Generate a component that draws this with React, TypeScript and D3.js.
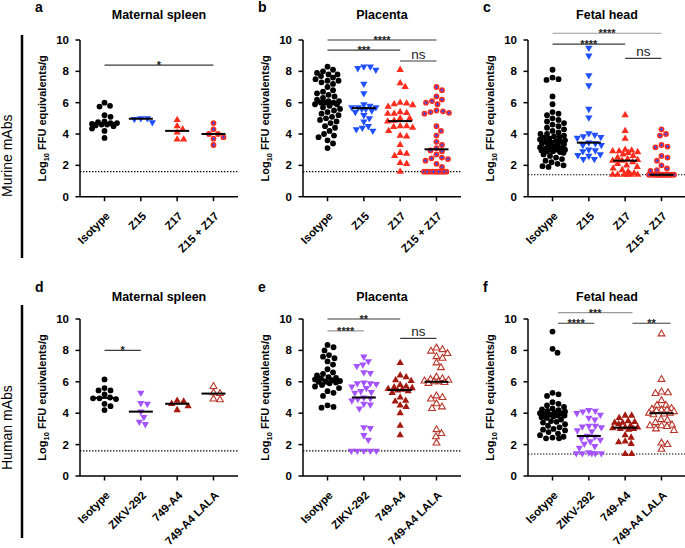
import React from 'react';
import * as d3 from 'd3';

const murineGroups = ['Isotype', 'Z15', 'Z17', 'Z15 + Z17'];
const humanGroups = ['Isotype', 'ZIKV-292', '749-A4', '749-A4 LALA'];
const yTicks = [0, 2, 4, 6, 8, 10];

// a: Maternal spleen (murine)
const aIsotype = [6.0, 5.8, 5.75, 5.2, 5.1, 4.8, 4.75, 4.7, 4.7, 4.65, 4.6, 4.6, 4.55, 4.5, 4.35, 4.2, 3.75];
const aZ15 = [5.0, 5.0, 4.95, 4.75];
const aZ17 = [4.9, 4.5, 4.3, 4.1, 3.65, 3.65];
const aZ15Z17 = [4.7, 4.3, 4.0, 4.0, 3.8, 3.7, 3.3];

// b: Placenta (murine)
const bIsotype = [8.3, 8.1, 8.0, 7.9, 7.8, 7.8, 7.7, 7.6, 7.5, 7.4, 7.4, 7.3, 7.2, 7.0, 6.8, 6.7, 6.6, 6.5, 6.4, 6.3, 6.2, 6.1, 6.1, 6.0, 6.0, 6.0, 5.9, 5.9, 5.8, 5.7, 5.6, 5.5, 5.4, 5.3, 5.2, 5.1, 5.0, 4.9, 4.8, 4.7, 4.5, 4.4, 4.2, 4.0, 3.9, 3.8, 3.6, 3.4, 3.1];
const bZ15 = [8.3, 8.3, 8.2, 8.1, 7.2, 6.6, 5.9, 5.8, 5.7, 5.7, 5.7, 5.6, 5.6, 5.5, 5.4, 5.2, 5.0, 4.8, 4.5, 4.4, 4.3, 4.2];
const bZ17 = [8.1, 7.25, 7.0, 6.0, 5.95, 5.9, 5.85, 5.75, 5.4, 5.35, 5.3, 5.3, 5.0, 5.0, 4.85, 4.8, 4.5, 4.5, 4.45, 4.4, 4.2, 3.9, 3.85, 3.3, 2.8, 2.75, 2.6, 2.15, 2.1, 1.6];
const bZ15Z17 = [7.0, 6.8, 6.4, 6.2, 6.1, 6.0, 5.9, 5.5, 5.45, 5.4, 5.35, 5.3, 4.5, 4.2, 3.9, 3.5, 3.3, 3.1, 2.95, 2.9, 2.7, 2.5, 2.45, 2.4, 2.3, 2.1, 1.9, 1.6, 1.6, 1.6, 1.6, 1.6, 1.6, 1.6, 1.6, 1.6];

// c: Fetal head (murine)
const cIsotype = [8.1, 7.6, 7.5, 7.45, 6.4, 5.9, 5.4, 5.3, 5.2, 5.0, 4.9, 4.8, 4.7, 4.6, 4.5, 4.4, 4.3, 4.2, 4.1, 4.0, 4.0, 3.9, 3.85, 3.8, 3.75, 3.7, 3.65, 3.6, 3.55, 3.5, 3.5, 3.45, 3.4, 3.35, 3.3, 3.25, 3.2, 3.15, 3.1, 3.05, 3.0, 3.0, 3.0, 2.95, 2.9, 2.9, 2.85, 2.8, 2.7, 2.6, 2.5, 2.4, 2.3, 2.2, 2.1, 2.0, 1.95, 1.9];
const cZ15 = [9.5, 9.0, 7.75, 7.1, 5.6, 5.05, 4.05, 3.95, 3.85, 3.8, 3.75, 3.45, 3.4, 3.3, 3.3, 3.0, 2.95, 2.9, 2.7, 2.65, 2.6, 2.4, 2.4];
const cZ17 = [5.2, 4.2, 3.7, 3.0, 2.95, 2.9, 2.9, 2.85, 2.8, 2.7, 2.6, 2.5, 2.4, 2.35, 2.3, 2.3, 2.2, 2.1, 2.0, 1.9, 1.8, 1.7, 1.6, 1.5, 1.4, 1.4, 1.4, 1.4, 1.4, 1.4];
const cZ15Z17 = [4.3, 4.0, 3.9, 3.3, 3.2, 3.15, 2.6, 2.5, 2.3, 2.0, 1.8, 1.7, 1.65, 1.4, 1.4, 1.4, 1.4, 1.4, 1.4, 1.4, 1.4, 1.4, 1.4, 1.4, 1.4, 1.4, 1.4];

// d: Maternal spleen (human)
const dIsotype = [6.15, 5.6, 5.45, 5.45, 5.2, 5.0, 4.95, 4.95, 4.9, 4.6, 4.45, 4.2];
const dZikv = [5.3, 4.65, 4.6, 4.1, 3.75, 3.45, 3.3];
const dA4 = [4.8, 4.75, 4.6, 4.45, 4.2];
const dLala = [5.7, 5.3, 5.25, 4.9, 4.85];

// e: Placenta (human)
const eIsotype = [8.35, 8.2, 8.0, 7.7, 7.6, 7.5, 7.3, 7.1, 6.8, 6.6, 6.5, 6.4, 6.3, 6.25, 6.2, 6.15, 6.1, 6.05, 6.0, 6.0, 5.95, 5.9, 5.8, 5.7, 5.6, 5.4, 5.3, 5.1, 4.5, 4.4, 4.35];
const eZikv = [7.6, 7.3, 7.1, 7.0, 6.6, 6.55, 5.95, 5.9, 5.9, 5.85, 5.7, 5.6, 5.4, 5.35, 5.3, 5.0, 4.95, 4.9, 4.8, 4.6, 4.55, 4.3, 3.1, 3.05, 2.6, 2.3, 1.6, 1.6, 1.6, 1.6, 1.6];
const eA4 = [7.2, 6.4, 6.3, 6.1, 6.05, 5.8, 5.7, 5.65, 5.6, 5.55, 5.5, 5.45, 5.4, 5.3, 5.0, 4.8, 4.75, 4.5, 4.4, 4.0, 3.2, 2.6];
const eLala = [8.15, 8.05, 7.95, 7.8, 7.6, 7.5, 7.2, 6.9, 6.3, 6.2, 6.15, 6.1, 6.05, 6.0, 6.0, 5.95, 5.9, 5.1, 5.0, 4.9, 4.6, 4.4, 4.3, 2.95, 2.7, 2.5, 2.1];

// f: Fetal head (human)
const fIsotype = [9.2, 8.1, 7.85, 5.3, 5.2, 5.1, 4.7, 4.6, 4.5, 4.4, 4.3, 4.25, 4.2, 4.15, 4.1, 4.05, 4.0, 4.0, 3.95, 3.9, 3.85, 3.85, 3.8, 3.75, 3.7, 3.6, 3.5, 3.45, 3.4, 3.3, 3.2, 3.1, 3.0, 2.95, 2.9, 2.8, 2.7, 2.6, 2.5, 2.45, 2.4, 2.4];
const fZikv = [4.2, 4.15, 4.1, 4.0, 3.9, 3.7, 3.6, 3.2, 3.2, 3.15, 3.1, 2.9, 2.85, 2.55, 2.5, 2.4, 2.3, 2.2, 2.05, 1.9, 1.8, 1.5, 1.45, 1.45, 1.45, 1.45, 1.45];
const fA4 = [3.85, 3.85, 3.7, 3.5, 3.45, 3.4, 3.4, 3.3, 3.2, 3.1, 3.1, 3.05, 3.0, 3.0, 2.95, 2.6, 2.45, 2.2, 2.15, 2.05, 1.4, 1.4];
const fLala = [9.05, 6.15, 5.35, 5.3, 5.25, 4.8, 4.5, 4.5, 4.3, 4.25, 4.2, 4.2, 4.15, 4.1, 4.0, 4.0, 3.95, 3.9, 3.6, 3.55, 3.4, 3.25, 3.2, 3.2, 3.15, 3.0, 2.9, 2.1, 2.0, 1.7];

// limits of detection
const lodValues = [1.6, 1.6, 1.4, 1.6, 1.6, 1.4];

type Sig = { from: number; to: number; level: number; label: string; grey?: boolean };
const sigA: Sig[] = [{ from: 0, to: 3, level: 8.4, label: '*' }];
const sigB: Sig[] = [
  { from: 0, to: 3, level: 10.0, label: '****' },
  { from: 0, to: 2, level: 9.36, label: '***' },
  { from: 2, to: 3, level: 8.66, label: 'ns' },
];
const sigC: Sig[] = [
  { from: 0, to: 3, level: 10.43, label: '****', grey: true },
  { from: 0, to: 2, level: 9.74, label: '****' },
  { from: 2, to: 3, level: 8.83, label: 'ns' },
];
const sigD: Sig[] = [{ from: 0, to: 1, level: 8.0, label: '*' }];
const sigE: Sig[] = [
  { from: 0, to: 2, level: 10.0, label: '**' },
  { from: 0, to: 1, level: 9.25, label: '****', grey: true },
  { from: 2, to: 3, level: 8.77, label: 'ns' },
];
const sigF: Sig[] = [
  { from: 0.15, to: 2.2, level: 10.4, label: '***', grey: true },
  { from: 0.15, to: 1.15, level: 9.73, label: '****' },
  { from: 2.2, to: 3.25, level: 9.73, label: '**' },
];

const titles = ['Maternal spleen', 'Placenta', 'Fetal head', 'Maternal spleen', 'Placenta', 'Fetal head'];
const letters = ['a', 'b', 'c', 'd', 'e', 'f'];
const rowLabels = ['Murine mAbs', 'Human mAbs'];

type Marker = 'circle' | 'down' | 'up' | 'combo' | 'open';
const murineMarkers: Marker[] = ['circle', 'down', 'up', 'combo'];
const humanMarkers: Marker[] = ['circle', 'down', 'up', 'open'];
const murineColors = ['#000000', '#1f4fff', '#ff2b1c', '#ff2b1c'];
const humanColors = ['#000000', '#a454ff', '#a3190e', '#b9352a'];

const FONT = '"Liberation Sans", Arial, Helvetica, sans-serif';
const colAxisX = [80, 303, 528];
const plotW = 158;
const rows = [
  { y0: 196.7, y10: 40 },
  { y0: 476, y10: 319 },
];

function swarmOffsets(ys: number[], D: number, maxHalf: number): number[] {
  const idx = ys.map((_, i) => i).sort((a, b) => ys[a] - ys[b]);
  const out = new Array(ys.length).fill(0);
  const placed: { x: number; y: number }[] = [];
  const cands: number[] = [0];
  for (let k = 0.5; k <= maxHalf; k += 0.5) cands.push(k, -k);
  for (const i of idx) {
    const y = ys[i];
    let best = 0;
    let bestScore = -1;
    for (const c of cands) {
      let minD = Infinity;
      for (const p of placed) {
        const dy = p.y - y;
        if (Math.abs(dy) >= D) continue;
        const dd = Math.hypot(p.x - c, dy);
        if (dd < minD) minD = dd;
      }
      if (minD >= D) {
        best = c;
        bestScore = Infinity;
        break;
      }
      if (minD > bestScore) {
        bestScore = minD;
        best = c;
      }
    }
    out[i] = best;
    placed.push({ x: best, y });
  }
  return out;
}

const triPath = d3.symbol().type(d3.symbolTriangle).size(23)() as string;
const openTriPath = d3.symbol().type(d3.symbolTriangle).size(20)() as string;

function MarkerShape({ kind, color, x, y }: { kind: Marker; color: string; x: number; y: number }) {
  if (kind === 'circle') return <circle cx={x} cy={y} r={2.9} fill={color} />;
  if (kind === 'up') return <path d={triPath} transform={`translate(${x},${y})`} fill={color} />;
  if (kind === 'down') return <path d={triPath} transform={`translate(${x},${y}) rotate(180)`} fill={color} />;
  if (kind === 'open')
    return <path d={openTriPath} transform={`translate(${x},${y})`} fill="#ffffff" stroke={color} strokeWidth={1.1} />;
  return (
    <g transform={`translate(${x},${y})`}>
      <circle r={2.9} fill={color} />
      <path d="M-1.5,0H1.5M0,-1.5V1.5" stroke="#2a4dff" strokeWidth={1} />
    </g>
  );
}

function Panel({ index, groups, data, markers, colors, sigs }: {
  index: number; groups: string[]; data: number[][]; markers: Marker[]; colors: string[]; sigs: Sig[];
}) {
  const col = index % 3;
  const row = Math.floor(index / 3);
  const ax = colAxisX[col];
  const { y0, y10 } = rows[row];
  const y = d3.scaleLinear().domain([0, 10]).range([y0, y10]);
  const x = d3.scalePoint<string>().domain(groups).range([ax, ax + plotW]).padding(0.675);
  const step = x.step();
  const xi = (i: number) => (x(groups[0]) as number) + i * step;
  const lod = lodValues[index];
  const titleY = row === 0 ? 19 : 301;
  const letterY = row === 0 ? 12 : 292;
  const midY = (y0 + y10) / 2;
  return (
    <g>
      <text x={ax - 45} y={letterY} fontFamily={FONT} fontWeight="bold" fontSize={14}>{letters[index]}</text>
      <text x={ax + plotW / 2} y={titleY} fontFamily={FONT} fontWeight="bold" fontSize={12.5} textAnchor="middle">{titles[index]}</text>
      <text transform={`translate(${ax - 34},${midY}) rotate(-90)`} fontFamily={FONT} fontWeight="bold" fontSize={11} textAnchor="middle">
        Log<tspan fontSize={7.5} dy={3}>10</tspan><tspan dy={-3}> FFU equivalents/g</tspan>
      </text>
      <line x1={ax} x2={ax + plotW} y1={y(lod)} y2={y(lod)} stroke="#000" strokeWidth={1.2} strokeDasharray="1.4,1.6" />
      {data.map((vals, gi) => {
        const ys = vals.map((v) => y(v));
        const offs = swarmOffsets(ys, 6.2, 12.5);
        const cx = x(groups[gi]) as number;
        return (
          <g key={gi}>
            {vals.map((v, i) => (
              <MarkerShape key={i} kind={markers[gi]} color={colors[gi]} x={cx + offs[i]} y={ys[i]} />
            ))}
          </g>
        );
      })}
      {data.map((vals, gi) => {
        const cx = x(groups[gi]) as number;
        const m = d3.median(vals) as number;
        return <line key={gi} x1={cx - 12} x2={cx + 12} y1={y(m)} y2={y(m)} stroke="#000" strokeWidth={2} />;
      })}
      <line x1={ax} x2={ax} y1={y(0)} y2={y(10)} stroke="#000" strokeWidth={1.5} />
      <line x1={ax} x2={ax + plotW} y1={y(0)} y2={y(0)} stroke="#000" strokeWidth={1.5} />
      {yTicks.map((t) => (
        <g key={t}>
          <line x1={ax - 4.5} x2={ax} y1={y(t)} y2={y(t)} stroke="#000" strokeWidth={1.5} />
          <text x={ax - 11} y={y(t) + 4} fontFamily={FONT} fontWeight="bold" fontSize={11.5} textAnchor="end">{t}</text>
        </g>
      ))}
      {groups.map((g) => {
        const gx = x(g) as number;
        return (
          <g key={g}>
            <line x1={gx} x2={gx} y1={y(0)} y2={y(0) + 4.5} stroke="#000" strokeWidth={1.5} />
            <text transform={`translate(${gx + 6},${y(0) + 20}) rotate(-45)`} fontFamily={FONT} fontWeight="bold" fontSize={11.3} textAnchor="end">{g}</text>
          </g>
        );
      })}
      {sigs.map((s, i) => {
        const x1 = xi(s.from);
        const x2 = xi(s.to);
        const yy = y(s.level);
        const isNs = s.label === 'ns';
        return (
          <g key={i}>
            <line x1={x1} x2={x2} y1={yy} y2={yy} stroke={s.grey ? '#9a9a9a' : '#3a3a3a'} strokeWidth={1.2} />
            <text x={(x1 + x2) / 2} y={isNs ? yy - 2 : yy + 4} fontFamily={FONT} fontWeight={isNs ? 'normal' : 'bold'} fontSize={isNs ? 13.5 : 11} textAnchor="middle" fill="#222">{s.label}</text>
          </g>
        );
      })}
    </g>
  );
}

export default function App() {
  const panelData = [
    { groups: murineGroups, data: [aIsotype, aZ15, aZ17, aZ15Z17], markers: murineMarkers, colors: murineColors, sigs: sigA },
    { groups: murineGroups, data: [bIsotype, bZ15, bZ17, bZ15Z17], markers: murineMarkers, colors: murineColors, sigs: sigB },
    { groups: murineGroups, data: [cIsotype, cZ15, cZ17, cZ15Z17], markers: murineMarkers, colors: murineColors, sigs: sigC },
    { groups: humanGroups, data: [dIsotype, dZikv, dA4, dLala], markers: humanMarkers, colors: humanColors, sigs: sigD },
    { groups: humanGroups, data: [eIsotype, eZikv, eA4, eLala], markers: humanMarkers, colors: humanColors, sigs: sigE },
    { groups: humanGroups, data: [fIsotype, fZikv, fA4, fLala], markers: humanMarkers, colors: humanColors, sigs: sigF },
  ];
  return (
    <svg width={685} height={548} style={{ position: 'absolute', left: 0, top: 0, background: '#fff' }}>
      <rect width={685} height={548} fill="#fff" />
      <line x1={22} x2={22} y1={35} y2={258} stroke="#000" strokeWidth={2.5} />
      <line x1={22} x2={22} y1={305} y2={538} stroke="#000" strokeWidth={2.5} />
      <text transform="translate(12,197) rotate(-90)" fontFamily={FONT} fontSize={14} textAnchor="start">{rowLabels[0]}</text>
      <text transform="translate(12,470) rotate(-90)" fontFamily={FONT} fontSize={14} textAnchor="start">{rowLabels[1]}</text>
      {panelData.map((p, i) => (
        <Panel key={i} index={i} {...p} />
      ))}
    </svg>
  );
}
